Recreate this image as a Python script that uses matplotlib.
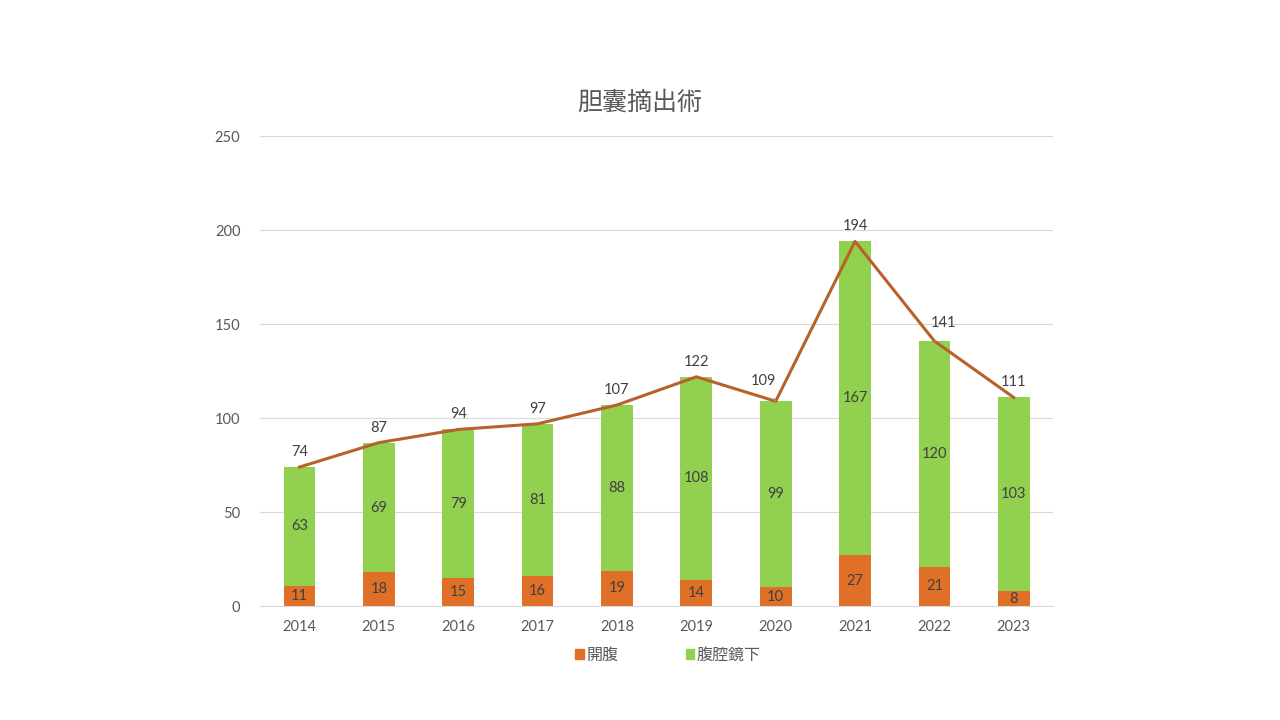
import matplotlib

matplotlib.use("Agg")

import matplotlib.pyplot as plt
import matplotlib.patches as mpatches
import numpy as np

plt.rcParams["font.family"] = ["Lato", "Noto Sans CJK JP", "DejaVu Sans"]

years = ["2014", "2015", "2016", "2017", "2018", "2019", "2020", "2021", "2022", "2023"]
open_surgery = [11, 18, 15, 16, 19, 14, 10, 27, 21, 8]
laparoscopic = [63, 69, 79, 81, 88, 108, 99, 167, 120, 103]
totals = [74, 87, 94, 97, 107, 122, 109, 194, 141, 111]

ORANGE = "#E07028"
GREEN = "#92D050"
LINE = "#B8612A"
TEXT = "#595959"
LABEL = "#404040"

# label offsets for the totals (pixels), where Excel moved a label aside
label_offsets = {6: (-12, 20), 8: (9, 18)}

fig = plt.figure(figsize=(12.8, 7.2), dpi=100)
ax = fig.add_axes([0.203, 0.158, 0.620, 0.653])

x = np.arange(len(years))
ax.bar(x, open_surgery, width=0.4, color=ORANGE, zorder=2)
ax.bar(x, laparoscopic, width=0.4, bottom=open_surgery, color=GREEN, zorder=2)
ax.plot(x, totals, color=LINE, linewidth=2.2, zorder=3)

for i in range(len(years)):
    ax.text(x[i], open_surgery[i] / 2, str(open_surgery[i]), ha="center", va="center",
            fontsize=10.5, color=LABEL, zorder=4)
    ax.text(x[i], open_surgery[i] + laparoscopic[i] / 2, str(laparoscopic[i]), ha="center",
            va="center", fontsize=10.5, color=LABEL, zorder=4)
    dx, dy = label_offsets.get(i, (0, 15))
    arrow = None
    if i in label_offsets:
        arrow = dict(arrowstyle="-", color="#A6A6A6", lw=0.7, shrinkA=6, shrinkB=0)
    ax.annotate(str(totals[i]), xy=(x[i], totals[i]), xytext=(dx * 0.72, dy * 0.72),
                textcoords="offset points", ha="center", va="center", fontsize=10.5,
                color=LABEL, zorder=4, arrowprops=arrow)

ax.set_xlim(-0.5, len(years) - 0.5)
ax.set_ylim(0, 250)
ax.set_yticks(range(0, 251, 50))
ax.set_xticks(x)
ax.set_xticklabels(years)
ax.tick_params(axis="both", length=0, labelsize=10.5, colors=TEXT, pad=10)
ax.tick_params(axis="y", pad=14)
ax.grid(axis="y", color="#D9D9D9", linewidth=0.8, zorder=0)
for side in ["top", "right", "left"]:
    ax.spines[side].set_visible(False)
ax.spines["bottom"].set_color("#D9D9D9")

fig.text(0.5, 0.858, "胆囊摘出術", ha="center", va="center", fontsize=18, color=TEXT)

handles = [
    mpatches.Patch(color=ORANGE, label="開腹"),
    mpatches.Patch(color=GREEN, label="腹腔鏡下"),
]
fig.legend(handles=handles, loc="center", bbox_to_anchor=(0.522, 0.09), ncol=2, frameon=False,
           fontsize=11.5, handlelength=0.55, handleheight=0.55, handletextpad=0.15,
           columnspacing=4.2, labelcolor=TEXT)

fig.savefig("out.png", dpi=100, facecolor="white")
